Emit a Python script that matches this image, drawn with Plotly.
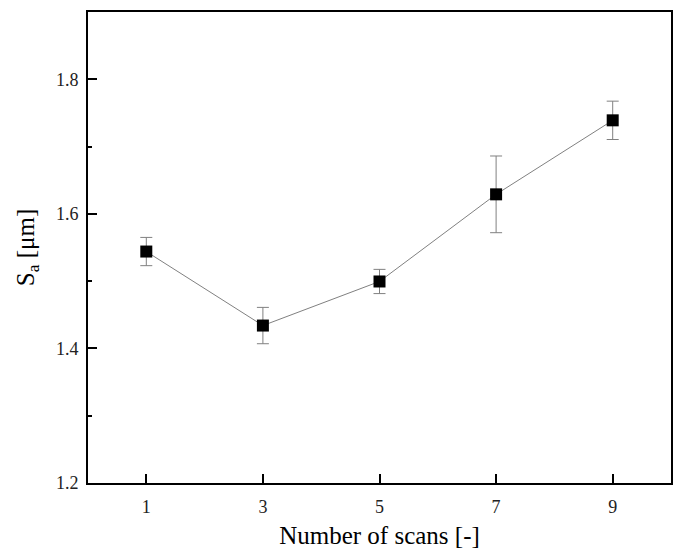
import plotly.graph_objects as go

scans = [1, 3, 5, 7, 9]
sa = [1.544, 1.434, 1.4995, 1.629, 1.739]
sa_err = [0.021, 0.027, 0.018, 0.057, 0.0285]

x_ticks = [1, 3, 5, 7, 9]
y_ticks = [1.2, 1.4, 1.6, 1.8]
y_ticklabels = ["1.2", "1.4", "1.6", "1.8"]

font_family = "Liberation Serif"

fig = go.Figure()
fig.add_trace(go.Scatter(
    x=scans, y=sa,
    mode="lines+markers",
    line=dict(color="#808080", width=1),
    marker=dict(symbol="square", size=12, color="black"),
    error_y=dict(type="data", array=sa_err, visible=True,
                 color="#808080", thickness=1, width=6),
    showlegend=False,
))

fig.update_layout(
    width=676, height=549,
    margin=dict(l=88, r=3, t=12, b=65),
    paper_bgcolor="white", plot_bgcolor="white",
    font=dict(family=font_family, color="#222", size=18),
)
fig.update_xaxes(
    range=[0, 10],
    tickvals=x_ticks,
    ticks="inside", ticklen=9, tickwidth=1.5, tickcolor="black",
    showline=True, mirror=True, linecolor="black", linewidth=2,
    showgrid=False, zeroline=False,
    ticklabelstandoff=6,
    tickfont=dict(size=18, family=font_family, color="#222"),
    title=dict(text="Number of scans [-]", font=dict(size=25, family=font_family, color="black"), standoff=12),
)
fig.update_yaxes(
    range=[1.2, 1.9],
    tickvals=y_ticks, ticktext=y_ticklabels,
    ticks="inside", ticklen=9, tickwidth=1.5, tickcolor="black",
    minor=dict(tickvals=[1.3, 1.5, 1.7], ticks="inside", ticklen=4, tickwidth=1.5, tickcolor="black"),
    showline=True, mirror=True, linecolor="black", linewidth=2,
    showgrid=False, zeroline=False,
    ticklabelstandoff=4,
    tickfont=dict(size=18, family=font_family, color="#222"),
    title=dict(text="S<sub>a</sub> [μm]", font=dict(size=25, family=font_family, color="black"), standoff=14),
)

fig.write_html("out.html")
